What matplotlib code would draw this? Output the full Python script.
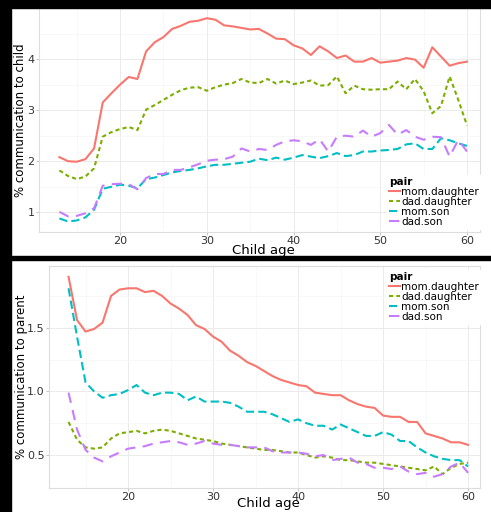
import matplotlib
matplotlib.use("Agg")
import matplotlib.pyplot as plt
from matplotlib.patches import Rectangle
import numpy as np

plt.rcParams['font.family'] = ['DejaVu Sans']

ages = list(range(13, 61))

# % communication to child
child_mom_daughter = [2.08, 2.00, 1.99, 2.04, 2.25, 3.15, 3.33, 3.50, 3.65, 3.61,
                      4.15, 4.33, 4.43, 4.59, 4.65, 4.73, 4.75, 4.80, 4.77, 4.66,
                      4.64, 4.61, 4.58, 4.59, 4.50, 4.40, 4.39, 4.27, 4.21, 4.08,
                      4.25, 4.15, 4.02, 4.07, 3.95, 3.95, 4.02, 3.93, 3.95, 3.97,
                      4.02, 3.99, 3.83, 4.23, 4.05, 3.87, 3.92, 3.95]
child_dad_daughter = [1.82, 1.71, 1.65, 1.70, 1.86, 2.48, 2.57, 2.63, 2.67, 2.61,
                      3.01, 3.10, 3.20, 3.30, 3.39, 3.44, 3.45, 3.38, 3.45, 3.50,
                      3.53, 3.61, 3.54, 3.53, 3.61, 3.52, 3.58, 3.51, 3.54, 3.58,
                      3.48, 3.49, 3.66, 3.33, 3.48, 3.41, 3.40, 3.41, 3.41, 3.56,
                      3.41, 3.61, 3.37, 2.94, 3.08, 3.66, 3.20, 2.70]
child_mom_son = [0.88, 0.82, 0.84, 0.90, 1.05, 1.46, 1.50, 1.54, 1.52, 1.47,
                 1.65, 1.68, 1.73, 1.78, 1.81, 1.83, 1.86, 1.90, 1.93, 1.93,
                 1.95, 1.97, 1.99, 2.05, 2.02, 2.07, 2.03, 2.07, 2.12, 2.09,
                 2.06, 2.10, 2.16, 2.10, 2.12, 2.19, 2.19, 2.21, 2.22, 2.24,
                 2.33, 2.35, 2.24, 2.24, 2.45, 2.41, 2.35, 2.30]
child_dad_son = [1.01, 0.92, 0.93, 0.98, 1.08, 1.52, 1.55, 1.56, 1.55, 1.45,
                 1.67, 1.75, 1.75, 1.83, 1.83, 1.88, 1.94, 2.01, 2.03, 2.04,
                 2.09, 2.25, 2.19, 2.24, 2.22, 2.32, 2.39, 2.41, 2.39, 2.32,
                 2.43, 2.19, 2.48, 2.50, 2.48, 2.60, 2.48, 2.55, 2.71, 2.52,
                 2.61, 2.48, 2.42, 2.48, 2.47, 2.09, 2.42, 2.19]

# % communication to parent
parent_mom_daughter = [1.90, 1.56, 1.47, 1.49, 1.54, 1.75, 1.80, 1.81, 1.81, 1.78,
                       1.79, 1.75, 1.69, 1.65, 1.60, 1.52, 1.49, 1.43, 1.39, 1.32,
                       1.28, 1.23, 1.20, 1.16, 1.12, 1.09, 1.07, 1.05, 1.04, 0.99,
                       0.98, 0.97, 0.97, 0.93, 0.90, 0.88, 0.87, 0.81, 0.80, 0.80,
                       0.76, 0.76, 0.67, 0.65, 0.63, 0.60, 0.60, 0.58]
parent_dad_daughter = [0.76, 0.62, 0.56, 0.55, 0.56, 0.63, 0.67, 0.68, 0.69, 0.67,
                       0.69, 0.70, 0.69, 0.67, 0.65, 0.63, 0.62, 0.61, 0.59, 0.58,
                       0.57, 0.56, 0.55, 0.54, 0.54, 0.53, 0.52, 0.52, 0.50, 0.48,
                       0.49, 0.48, 0.46, 0.46, 0.45, 0.44, 0.44, 0.43, 0.42, 0.41,
                       0.40, 0.39, 0.38, 0.41, 0.35, 0.40, 0.43, 0.44]
parent_mom_son = [1.81, 1.43, 1.07, 1.00, 0.95, 0.97, 0.98, 1.01, 1.05, 0.99,
                  0.97, 0.99, 0.99, 0.98, 0.93, 0.96, 0.92, 0.92, 0.92, 0.91,
                  0.88, 0.84, 0.84, 0.84, 0.82, 0.79, 0.76, 0.78, 0.75, 0.73,
                  0.73, 0.70, 0.74, 0.71, 0.68, 0.65, 0.65, 0.68, 0.66, 0.61,
                  0.61, 0.56, 0.52, 0.49, 0.47, 0.46, 0.46, 0.41]
parent_dad_son = [0.99, 0.70, 0.54, 0.48, 0.45, 0.49, 0.52, 0.55, 0.56, 0.57,
                  0.59, 0.60, 0.61, 0.60, 0.58, 0.59, 0.61, 0.59, 0.58, 0.58,
                  0.57, 0.56, 0.56, 0.56, 0.53, 0.52, 0.52, 0.52, 0.51, 0.49,
                  0.50, 0.46, 0.47, 0.48, 0.44, 0.43, 0.40, 0.40, 0.39, 0.41,
                  0.37, 0.35, 0.36, 0.33, 0.35, 0.41, 0.44, 0.36]

pairs = ["mom.daughter", "dad.daughter", "mom.son", "dad.son"]
colors = ["#F8766D", "#7CAE00", "#00BFC4", "#C77CFF"]
dash_styles = [None, (2, 1.5), (4, 2), (5, 3.5)]

W, H = 491, 512
fig = plt.figure(figsize=(W / 100, H / 100), dpi=100)
fig.patch.set_facecolor("white")


def px_axes(left, top, right, bottom):
    return fig.add_axes([left / W, 1 - bottom / H, (right - left) / W, (bottom - top) / H])


def style_axes(ax, xlim, ylim, yticks, yticklabels, yminor):
    ax.set_facecolor("white")
    ax.set_xlim(*xlim)
    ax.set_ylim(*ylim)
    ax.set_xticks([20, 30, 40, 50, 60])
    ax.set_xticks([15, 25, 35, 45, 55], minor=True)
    ax.set_yticks(yticks)
    ax.set_yticklabels(yticklabels)
    ax.set_yticks(yminor, minor=True)
    ax.grid(True, which="major", color="#EBEBEB", lw=0.7)
    ax.grid(True, which="minor", color="#F5F5F5", lw=0.5)
    ax.set_axisbelow(True)
    for s in ax.spines.values():
        s.set_color("#DDDDDD")
        s.set_linewidth(0.8)
    ax.tick_params(which="major", length=2, width=0.6, color="#BBBBBB",
                   labelsize=8, labelcolor="#333333", pad=1.2)
    ax.tick_params(which="minor", length=0)


def draw(ax, series):
    for name, vals, c, d in zip(pairs, series, colors, dash_styles):
        ln, = ax.plot(ages, vals, color=c, lw=1.5, label=name)
        if d is not None:
            ln.set_dashes(d)


# Top panel
ax1 = px_axes(39, 8, 480, 232)
style_axes(ax1, (10.65, 61.5), (0.614, 5.0), [1, 2, 3, 4], ["1", "2", "3", "4"],
           [1.5, 2.5, 3.5, 4.5])
draw(ax1, [child_mom_daughter, child_dad_daughter, child_mom_son, child_dad_son])
ax1.set_xlabel("Child age", fontsize=9.5, va="baseline")
ax1.xaxis.set_label_coords(0.508, (232 - 254) / 224)
ax1.set_ylabel("% communication to child", fontsize=8.5, va="center")
ax1.yaxis.set_label_coords((20.5 - 39) / 441, 0.5)

# Bottom panel
ax2 = px_axes(49, 266, 480, 488)
style_axes(ax2, (10.7, 61.4), (0.241, 1.985), [0.5, 1.0, 1.5], ["0.5", "1.0", "1.5"],
           [0.75, 1.25, 1.75])
draw(ax2, [parent_mom_daughter, parent_dad_daughter, parent_mom_son, parent_dad_son])
ax2.set_xlabel("Child age", fontsize=9.5, va="baseline")
ax2.xaxis.set_label_coords(0.508, (488 - 507.5) / 222)
ax2.set_ylabel("% communication to parent", fontsize=8.5, va="center")
ax2.yaxis.set_label_coords((21.5 - 49) / 431, 0.5)


def add_legend(ax, x, y):
    leg = ax.legend(loc="upper left", bbox_to_anchor=(x / W, 1 - y / H),
                    bbox_transform=fig.transFigure, title="pair",
                    title_fontproperties={"weight": "bold", "size": 7.5},
                    fontsize=7.5, frameon=True, fancybox=False, framealpha=1,
                    edgecolor="white", facecolor="white", handlelength=1.0,
                    handletextpad=0.15, labelspacing=0.0, borderpad=0.2,
                    borderaxespad=0, alignment="left")
    leg.set_zorder(5)
    return leg


add_legend(ax1, 387, 175)
add_legend(ax2, 387, 270)

# black frame strips of the screenshot
ov = fig.add_axes([0, 0, 1, 1], zorder=20)
ov.set_xlim(0, W)
ov.set_ylim(H, 0)
ov.axis("off")
ov.patch.set_alpha(0)
ov.add_patch(Rectangle((0, 0), W, 8, color="black"))
ov.add_patch(Rectangle((0, 0), 11, H, color="black"))
ov.add_patch(Rectangle((0, 256), W, 4, color="black"))

fig.savefig("out.png", dpi=100, facecolor="white")
